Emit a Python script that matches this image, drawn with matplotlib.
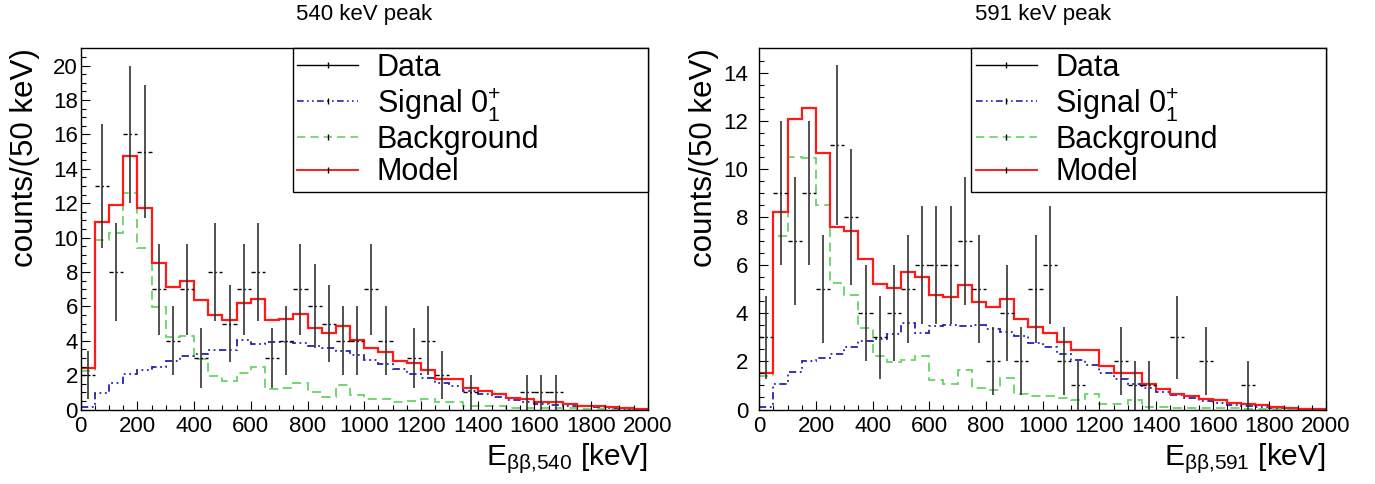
import numpy as np
import matplotlib
matplotlib.use("Agg")
import matplotlib.pyplot as plt
from matplotlib.lines import Line2D

plt.rcParams["font.family"] = ["Liberation Sans", "DejaVu Sans"]
plt.rcParams["mathtext.fontset"] = "custom"
plt.rcParams["mathtext.rm"] = "Liberation Sans"
plt.rcParams["mathtext.it"] = "Liberation Sans"

# bins of 50 keV from 0 to 2000 keV
bin_width = 50
e_max = 2000

# 540 keV peak
data_540 = [2, 13, 8, 16, 15, 7, 4, 7, 3, 8,
            5, 7, 8, 3, 4, 7, 6, 5, 4, 4,
            7, 4, 0, 3, 4, 2, 0, 1, 0, 0,
            0, 1, 1, 1, 0, 0, 0, 0, 0, 0]
model_540 = [2.4, 10.9, 11.9, 14.75, 11.7, 8.55, 7.13, 7.46, 6.35, 5.5,
             5.2, 6.2, 6.4, 5.2, 5.25, 5.55, 4.75, 4.45, 4.85, 4.05,
             3.58, 3.33, 2.8, 2.7, 2.31, 1.77, 1.77, 1.24, 1.08, 0.89,
             0.69, 0.6, 0.46, 0.46, 0.3, 0.23, 0.18, 0.14, 0.08, 0.04]
bkg_540 = [2.25, 9.86, 10.25, 12.6, 9.38, 5.96, 4.2, 4.26, 2.93, 1.95,
           1.65, 2.1, 2.5, 1.2, 1.28, 1.57, 1.0, 0.74, 1.4, 0.82,
           0.61, 0.6, 0.46, 0.52, 0.6, 0.46, 0.41, 0.18, 0.18, 0.18,
           0.1, 0.08, 0.08, 0.07, 0.06, 0.05, 0.05, 0.04, 0.03, 0.02]
sig_540 = [0.12, 0.98, 1.56, 2.09, 2.29, 2.48, 2.83, 3.13, 3.22, 3.46,
           3.46, 4.04, 3.8, 3.9, 3.92, 3.88, 3.71, 3.55, 3.4, 3.17,
           2.9, 2.64, 2.35, 2.08, 1.82, 1.57, 1.34, 1.1, 0.91, 0.72,
           0.55, 0.46, 0.33, 0.27, 0.21, 0.18, 0.12, 0.08, 0.05, 0.03]

# 591 keV peak
data_591 = [3, 9, 7, 9, 5, 11, 8, 4, 3, 4,
            5, 6, 6, 6, 7, 5, 2, 4, 2, 5,
            6, 2, 1, 0, 0, 2, 1, 1, 0, 3,
            0, 2, 0, 0, 1, 0, 0, 0, 0, 0]
model_591 = [1.5, 8.22, 12.08, 12.54, 10.66, 7.57, 7.42, 6.27, 5.2, 5.05,
             5.72, 5.5, 4.77, 4.67, 5.16, 4.46, 4.24, 4.6, 3.76, 3.42,
             3.17, 2.79, 2.47, 2.49, 1.79, 1.51, 1.52, 1.05, 0.86, 0.63,
             0.56, 0.42, 0.38, 0.28, 0.21, 0.18, 0.1, 0.07, 0.04, 0.02]
bkg_591 = [1.4, 7.19, 10.5, 10.47, 8.49, 5.24, 4.75, 3.39, 2.23, 1.96,
           2.05, 2.23, 1.22, 1.08, 1.63, 0.91, 0.79, 1.3, 0.66, 0.58,
           0.56, 0.49, 0.39, 0.63, 0.21, 0.21, 0.38, 0.1, 0.1, 0.08,
           0.07, 0.06, 0.06, 0.05, 0.04, 0.04, 0.03, 0.03, 0.02, 0.02]
sig_591 = [0.11, 1.05, 1.54, 2.0, 2.16, 2.3, 2.61, 2.86, 2.93, 3.14,
           3.6, 3.17, 3.45, 3.53, 3.49, 3.5, 3.35, 3.21, 3.04, 2.76,
           2.58, 2.3, 2.05, 1.84, 1.53, 1.28, 1.06, 0.9, 0.72, 0.59,
           0.46, 0.35, 0.25, 0.17, 0.13, 0.1, 0.07, 0.05, 0.03, 0.02]

titles = ["540 keV peak", "591 keV peak"]
xlabels = [r"E$_{\beta\beta{,}540}$ [keV]", r"E$_{\beta\beta{,}591}$ [keV]"]
ylabel = "counts/(50 keV)"
legend_labels = ["Data", r"Signal 0$^{+}_{1}$", "Background", "Model"]

C_RED = "#ff1a1a"
C_GREEN = "#66d466"
C_BLUE = "#2424b0"
LS_SIG = (0, (4, 2, 1, 2, 1, 2))
LS_BKG = (0, (5, 3))
LS_DATA = (0, (3, 2, 1, 2))

edges = np.arange(0, e_max + bin_width, bin_width)

fig = plt.figure(figsize=(13.75, 4.84), dpi=100)
ax_pos = [[0.0587, 0.1539, 0.4124, 0.7459],
          [0.5522, 0.1539, 0.4122, 0.7459]]
panels = [(data_540, model_540, bkg_540, sig_540, 21, 2),
          (data_591, model_591, bkg_591, sig_591, 15, 8)]

for i, (data, model, bkg, sig, ymax, ypad) in enumerate(panels):
    ax = fig.add_axes(ax_pos[i])
    data = np.asarray(data, dtype=float)
    lo = edges[:-1]
    hi = edges[1:]
    ctr = 0.5 * (lo + hi)

    ax.stairs(bkg, edges, color=C_GREEN, lw=1.3, ls=LS_BKG, baseline=None)
    ax.stairs(sig, edges, color=C_BLUE, lw=1.3, ls=LS_SIG, baseline=None)

    nz = data > 0
    err = np.sqrt(data)
    ax.vlines(ctr[nz], (data - err)[nz], (data + err)[nz], color="#333333", lw=1.2)
    ax.hlines(data[nz], lo[nz], hi[nz], color="black", lw=1.0, linestyles=[LS_DATA])

    ax.stairs(model, edges, color=C_RED, lw=1.6, baseline=None)

    ax.set_xlim(0, e_max)
    ax.set_ylim(0, ymax)
    ax.set_xticks(np.arange(0, e_max + 1, 200))
    ax.set_xticks(np.arange(0, e_max + 1, 50), minor=True)
    ax.set_yticks(np.arange(0, ymax, 2))
    ax.set_yticks(np.arange(0, ymax, 0.5), minor=True)
    ax.tick_params(which="both", direction="in", top=False, right=False,
                   width=0.8, labelsize=16)
    ax.tick_params(which="major", length=6.5)
    ax.tick_params(which="minor", length=3.3)
    ax.tick_params(axis="x", pad=5)
    ax.tick_params(axis="y", pad=ypad)
    for sp in ax.spines.values():
        sp.set_linewidth(1.0)

    ax.set_ylabel(ylabel, fontsize=22.5, loc="top")
    ax.yaxis.set_label_coords(-0.071, 1.0)
    ax.set_xlabel(xlabels[i], fontsize=21.5, loc="right")
    ax.xaxis.set_label_coords(1.0, -0.088)

    ax.text(0.5, 1.093, titles[i], transform=ax.transAxes, ha="center",
            va="center", fontsize=16)

    handles = [
        Line2D([], [], color="black", lw=1.0, marker="|", ms=4, mec="black"),
        Line2D([], [], color=C_BLUE, lw=1.2, ls=LS_SIG, marker="|", ms=4, mec="black"),
        Line2D([], [], color=C_GREEN, lw=1.2, ls=LS_BKG, marker="|", ms=4, mec="black"),
        Line2D([], [], color=C_RED, lw=1.4, marker="|", ms=4, mec="black"),
    ]
    leg = ax.legend(handles, legend_labels, loc="upper right",
                    bbox_to_anchor=(0.374, 0.6, 0.626, 0.4), mode="expand",
                    borderaxespad=0, fontsize=22, frameon=True, fancybox=False,
                    framealpha=1, edgecolor="black", handlelength=2.0,
                    handletextpad=0.6, labelspacing=0.08, borderpad=0.15,
                    numpoints=1)
    leg.get_frame().set_linewidth(1.0)

fig.savefig("out.png", dpi=100)
